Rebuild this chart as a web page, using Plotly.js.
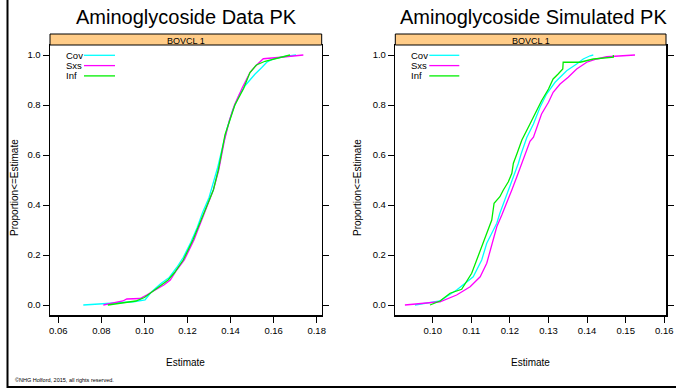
<!DOCTYPE html>
<html><head><meta charset="utf-8">
<script src="https://cdn.plot.ly/plotly-3.0.1.min.js"></script>
<style>html,body{margin:0;padding:0;background:#fff}#chart{width:676px;height:388px}</style>
</head><body><div id="chart"></div>
<script>
// ---- data ----
const panelTitles = ["Aminoglycoside Data PK", "Aminoglycoside Simulated PK"];
const stripLabel = "BOVCL 1";
const seriesNames = ["Cov", "Sxs", "Inf"];
const seriesColors = ["#00FFFF", "#FF00FF", "#00EE00"];
const yTickVals = [0, 0.2, 0.4, 0.6, 0.8, 1.0];
const yTickText = ["0.0", "0.2", "0.4", "0.6", "0.8", "1.0"];
const dataTickVals = [0.06, 0.08, 0.10, 0.12, 0.14, 0.16, 0.18];
const dataTickText = ["0.06", "0.08", "0.10", "0.12", "0.14", "0.16", "0.18"];
const simTickVals = [0.10, 0.11, 0.12, 0.13, 0.14, 0.15, 0.16];
const simTickText = ["0.10", "0.11", "0.12", "0.13", "0.14", "0.15", "0.16"];

// Data PK panel
const dataCovEst  = [0.0716,0.0830,0.0950,0.1003,0.1030,0.1075,0.1115,0.1150,0.1180,0.1215,0.1245,0.1270,0.1300,0.1320,0.1340,0.1365,0.1385,0.1410,0.1440,0.1470,0.1514,0.1545,0.1568,0.1600,0.1645,0.1704];
const dataCovProp = [0,0.007,0.013,0.020,0.050,0.085,0.110,0.150,0.190,0.250,0.310,0.370,0.430,0.490,0.550,0.640,0.710,0.780,0.840,0.880,0.924,0.950,0.971,0.985,0.993,1.0];
const dataSxsEst  = [0.0809,0.0850,0.0900,0.0918,0.0980,0.1010,0.1050,0.1090,0.1120,0.1150,0.1185,0.1230,0.1275,0.1320,0.1345,0.1372,0.1395,0.1418,0.1455,0.1490,0.1515,0.1552,0.1620,0.1680,0.1738];
const dataSxsProp = [0,0.008,0.016,0.024,0.026,0.040,0.060,0.080,0.100,0.140,0.180,0.260,0.360,0.460,0.540,0.660,0.740,0.800,0.870,0.930,0.955,0.985,0.990,0.995,1.0];
const dataInfEst  = [0.0830,0.0900,0.0960,0.1000,0.1030,0.1070,0.1110,0.1140,0.1180,0.1225,0.1272,0.1320,0.1343,0.1374,0.1420,0.1460,0.1490,0.1520,0.1560,0.1610,0.1676];
const dataInfProp = [0,0.008,0.016,0.030,0.050,0.075,0.100,0.130,0.180,0.260,0.360,0.460,0.540,0.680,0.800,0.865,0.930,0.960,0.975,0.985,1.0];

// Simulated PK panel
const simCovEst  = [0.0954,0.1019,0.1062,0.1105,0.1127,0.1140,0.1153,0.1166,0.1174,0.1187,0.1196,0.1209,0.1222,0.1229,0.1244,0.1261,0.1278,0.1295,0.1317,0.1330,0.1347,0.1373,0.1390,0.1408,0.1416];
const simCovProp = [0,0.016,0.060,0.113,0.180,0.247,0.287,0.327,0.367,0.420,0.460,0.513,0.567,0.604,0.671,0.724,0.791,0.844,0.891,0.911,0.937,0.964,0.984,0.997,1.0];
const simSxsEst  = [0.0928,0.1019,0.1062,0.1097,0.1123,0.1140,0.1153,0.1166,0.1179,0.1192,0.1205,0.1218,0.1231,0.1239,0.1252,0.1261,0.1282,0.1300,0.1312,0.1330,0.1351,0.1373,0.1399,0.1425,0.1451,0.1524];
const simSxsProp = [0,0.013,0.040,0.073,0.113,0.167,0.240,0.313,0.360,0.407,0.460,0.513,0.567,0.604,0.655,0.671,0.764,0.811,0.851,0.884,0.911,0.944,0.971,0.984,0.993,1.0];
const simInfEst  = [0.0993,0.1019,0.1045,0.1075,0.1101,0.1116,0.1127,0.1144,0.1153,0.1159,0.1174,0.1183,0.1196,0.1205,0.1209,0.1218,0.1231,0.1252,0.1265,0.1282,0.1300,0.1312,0.1325,0.1337,0.1338,0.1382,0.1416,0.1468,0.1468];
const simInfProp = [0,0.016,0.047,0.063,0.127,0.187,0.233,0.300,0.340,0.407,0.433,0.460,0.493,0.527,0.567,0.604,0.660,0.724,0.764,0.817,0.864,0.904,0.924,0.944,0.971,0.971,0.984,0.991,1.0];

// ---- layout helpers (pixel -> paper) ----
const W = 676, H = 388;
const px = v => v / W;
const py = v => 1 - v / H;
const FONT = "Liberation Sans, Arial, sans-serif";

const panels = [
  {x0: 50, x1: 321.7, xr: [0.05614, 0.18232], tv: dataTickVals, tt: dataTickText,
   est: [dataCovEst, dataSxsEst, dataInfEst], prop: [dataCovProp, dataSxsProp, dataInfProp],
   legX: 64, legL0: 84, legL1: 115, yTitleX: 14},
  {x0: 395.3, x1: 666, xr: [0.09031, 0.16044], tv: simTickVals, tt: simTickText,
   est: [simCovEst, simSxsEst, simInfEst], prop: [simCovProp, simSxsProp, simInfProp],
   legX: 408.7, legL0: 429.3, legL1: 459.3, yTitleX: 357}
];
const yTop = 45, yBot = 315, stripTop = 34;

const traces = [];
const layout = {
  width: W, height: H, margin: {l: 0, r: 0, t: 0, b: 0},
  paper_bgcolor: "#fff", plot_bgcolor: "#fff", showlegend: false,
  font: {family: FONT, color: "#000", size: 10},
  shapes: [], annotations: []
};

panels.forEach((p, i) => {
  const sfx = i === 0 ? "" : "2";
  seriesNames.forEach((name, k) => {
    traces.push({
      type: "scatter", mode: "lines", name: name,
      x: p.est[k], y: p.prop[k],
      xaxis: "x" + sfx, yaxis: "y" + sfx,
      line: {color: seriesColors[k], width: 1.3, shape: "linear"},
      hoverinfo: "skip"
    });
    const ly = 55.3 + k * 10.3;
    layout.annotations.push({xref: "paper", yref: "paper", x: px(p.legX), y: py(ly),
      xanchor: "left", yanchor: "middle", showarrow: false, text: name,
      font: {size: 9.5, family: FONT, color: "#000"}});
    layout.shapes.push({type: "line", xref: "paper", yref: "paper",
      x0: px(p.legL0), x1: px(p.legL1), y0: py(ly), y1: py(ly),
      line: {color: seriesColors[k], width: 1.3}});
  });
  layout["xaxis" + sfx] = {
    domain: [px(p.x0), px(p.x1)], range: p.xr, anchor: "y" + sfx,
    tickvals: p.tv, ticktext: p.tt, ticks: "outside", ticklen: 6, tickwidth: 1,
    tickcolor: "#000", showline: true, linecolor: "#000", linewidth: 1.5, mirror: true,
    showgrid: false, zeroline: false, tickfont: {size: 9.5, family: FONT, color: "#000"}
  };
  layout["yaxis" + sfx] = {
    domain: [py(yBot), py(yTop)], range: [-0.04, 1.04], anchor: "x" + sfx,
    tickvals: yTickVals, ticktext: yTickText, ticks: "outside", ticklen: 6, tickwidth: 1,
    tickcolor: "#000", showline: true, linecolor: "#000", linewidth: 1.5, mirror: "ticks",
    showgrid: false, zeroline: false, tickfont: {size: 9.5, family: FONT, color: "#000"}
  };
  // strip
  layout.shapes.push({type: "rect", xref: "paper", yref: "paper",
    x0: px(p.x0), x1: px(p.x1), y0: py(yTop), y1: py(stripTop),
    fillcolor: "#FFCC88", line: {color: "#000", width: 1}});
  layout.annotations.push({xref: "paper", yref: "paper", x: px((p.x0 + p.x1) / 2), y: py(41),
    xanchor: "center", yanchor: "middle", showarrow: false, text: stripLabel,
    font: {size: 9, family: FONT, color: "#000"}});
  // panel title
  layout.annotations.push({xref: "paper", yref: "paper", x: px(i === 0 ? 186.5 : 533), y: py(17),
    xanchor: "center", yanchor: "middle", showarrow: false, text: panelTitles[i],
    font: {size: 20, family: FONT, color: "#000"}});
  // axis titles
  layout.annotations.push({xref: "paper", yref: "paper", x: px((p.x0 + p.x1) / 2), y: py(362),
    xanchor: "center", yanchor: "middle", showarrow: false, text: "Estimate",
    font: {size: 10, family: FONT, color: "#000"}});
  layout.annotations.push({xref: "paper", yref: "paper", x: px(p.yTitleX), y: py(188),
    xanchor: "center", yanchor: "middle", showarrow: false, text: "Proportion&lt;=Estimate",
    textangle: -90, font: {size: 10, family: FONT, color: "#000"}});
});

// outer frame and copyright
layout.shapes.push({type: "line", xref: "paper", yref: "paper", x0: px(7.5), x1: px(7.5), y0: 0, y1: 1,
  line: {color: "#000", width: 2}});
layout.shapes.push({type: "line", xref: "paper", yref: "paper", x0: px(7.5), x1: 1, y0: py(387), y1: py(387),
  line: {color: "#000", width: 2}});
layout.annotations.push({xref: "paper", yref: "paper", x: px(13), y: py(380),
  xanchor: "left", yanchor: "middle", showarrow: false, text: "©NHG Holford, 2015, all rights reserved.",
  font: {size: 5.5, family: FONT, color: "#000"}});

Plotly.newPlot("chart", traces, layout, {staticPlot: true, displayModeBar: false});
</script></body></html>
